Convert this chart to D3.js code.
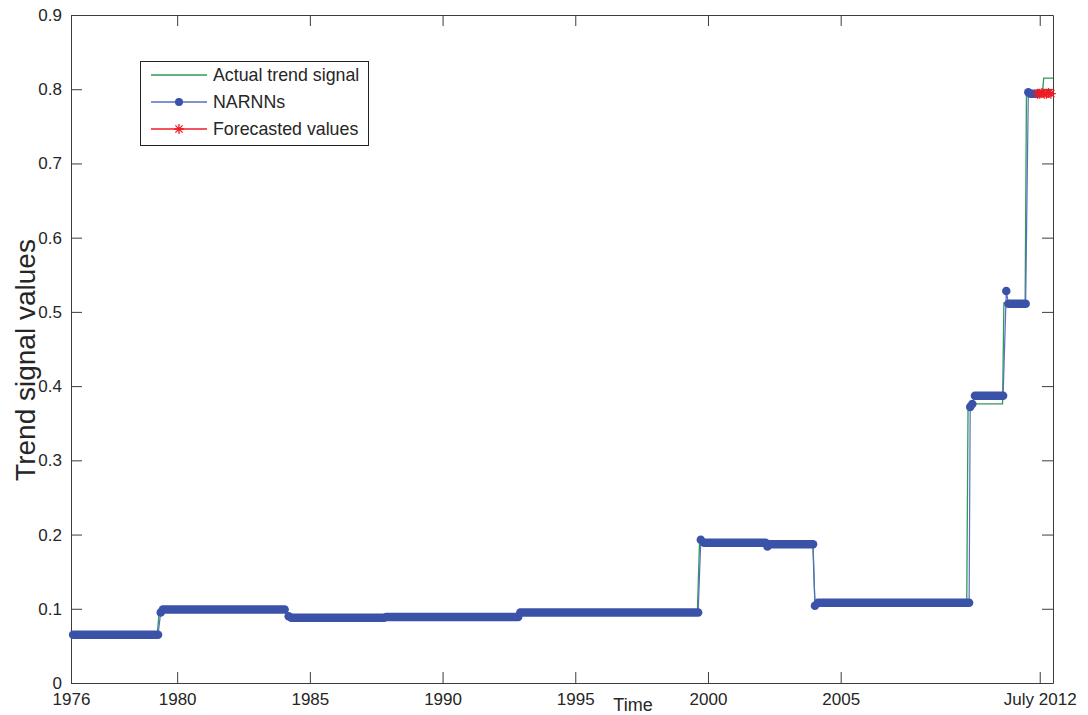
<!DOCTYPE html>
<html>
<head>
<meta charset="utf-8">
<script src="https://cdn.jsdelivr.net/npm/d3@7"></script>
<style>
  html, body { margin: 0; padding: 0; background: #fff; }
  svg { display: block; font-family: "Liberation Sans", Arial, sans-serif; }
</style>
</head>
<body>
<svg id="chart" width="1088" height="715"></svg>
<script>
// Actual trend signal (decimal year, value) – linear between monthly samples
const actualTime = [1976.0, 1979.25, 1979.33, 1984.1, 1984.18, 1987.75, 1987.83, 1992.8, 1992.88,
  1999.6, 1999.68, 2002.2, 2002.28, 2003.95, 2004.03, 2009.75, 2009.8, 2011.1, 2011.15,
  2011.95, 2012.0, 2012.6, 2012.65, 2013.0];
const actualValue = [0.065, 0.065, 0.099, 0.099, 0.088, 0.088, 0.089, 0.089, 0.095,
  0.095, 0.188, 0.188, 0.186, 0.186, 0.108, 0.108, 0.376, 0.376, 0.512,
  0.512, 0.794, 0.794, 0.815, 0.815];

// NARNNs output: runs of constant level (start year, end year, value)
const narnnStart = [1976.08, 1979.38, 1979.46, 1984.2, 1984.3, 1987.88, 1992.93, 1999.73, 1999.85,
  2002.24, 2002.32, 2004.03, 2004.14, 2009.88, 2009.96, 2010.06, 2011.24, 2011.32, 2012.07, 2012.15];
const narnnEnd = [1979.28, 1979.38, 1984.05, 1984.2, 1987.8, 1992.85, 1999.63, 1999.73, 2002.17,
  2002.24, 2003.96, 2004.03, 2009.84, 2009.88, 2009.96, 2011.12, 2011.24, 2011.97, 2012.07, 2012.4];
const narnnValue = [0.065, 0.095, 0.099, 0.090, 0.088, 0.089, 0.095, 0.193, 0.189,
  0.184, 0.187, 0.104, 0.108, 0.372, 0.376, 0.387, 0.528, 0.511, 0.796, 0.794];

// Forecasted values
const forecastTime = [2012.42, 2012.5, 2012.58, 2012.67, 2012.75, 2012.83, 2012.92];
const forecastValue = [0.794, 0.794, 0.795, 0.794, 0.794, 0.795, 0.794];

// Axis ticks
const xTickValues = [1976, 1980, 1985, 1990, 1995, 2000, 2005, 2012.5];
const xTickLabels = ["1976", "1980", "1985", "1990", "1995", "2000", "2005", "July 2012"];
const yTickValues = [0, 0.1, 0.2, 0.3, 0.4, 0.5, 0.6, 0.7, 0.8, 0.9];

const legendLabels = ["Actual trend signal", "NARNNs", "Forecasted values"];

const colGreen = "#2f9a57";
const colBlue = "#3a53a9";
const colBlueThin = "#5a6cc4";
const colRed = "#ee1c25";
const colAxis = "#3c3c3c";
const colText = "#262626";

const svg = d3.select("#chart");
const plotLeft = 71, plotRight = 1053, plotTop = 15, plotBottom = 683;

const x = d3.scaleLinear().domain([1976, 2013]).range([plotLeft, plotRight]);
const y = d3.scaleLinear().domain([0, 0.9]).range([plotBottom, plotTop]);

svg.append("rect").attr("width", 1088).attr("height", 715).attr("fill", "#fff");

// Axes (ticks pointing inward on all four sides)
const fmtY = d => d === 0 ? "0" : d3.format(".1f")(d);
const xLab = d => xTickLabels[xTickValues.indexOf(d)];

function styleAxis(g) {
  g.select(".domain").attr("stroke", colAxis).attr("stroke-width", 1);
  g.selectAll(".tick line").attr("stroke", colAxis).attr("stroke-width", 1);
  g.selectAll(".tick text").attr("fill", colText).attr("font-size", 17)
    .attr("font-family", "'Liberation Sans', Arial, sans-serif");
}

svg.append("g").attr("transform", `translate(0,${plotBottom})`)
  .call(d3.axisBottom(x).tickValues(xTickValues).tickFormat(xLab)
    .tickSizeInner(-11).tickSizeOuter(0).tickPadding(10))
  .call(styleAxis);
svg.append("g").attr("transform", `translate(0,${plotTop})`)
  .call(d3.axisTop(x).tickValues(xTickValues).tickFormat("")
    .tickSizeInner(-11).tickSizeOuter(0))
  .call(styleAxis);
svg.append("g").attr("transform", `translate(${plotLeft},0)`)
  .call(d3.axisLeft(y).tickValues(yTickValues).tickFormat(fmtY)
    .tickSizeInner(-11).tickSizeOuter(0).tickPadding(9))
  .call(styleAxis);
svg.append("g").attr("transform", `translate(${plotRight},0)`)
  .call(d3.axisRight(y).tickValues(yTickValues).tickFormat("")
    .tickSizeInner(-11).tickSizeOuter(0))
  .call(styleAxis);

// Axis titles
svg.append("text").attr("x", 633).attr("y", 711).attr("text-anchor", "middle")
  .attr("font-size", 18).attr("fill", colText).text("Time");
svg.append("text").attr("transform", "translate(35,360) rotate(-90)")
  .attr("text-anchor", "middle").attr("font-size", 28).attr("fill", colText)
  .text("Trend signal values");

// Actual trend signal
const actual = actualTime.map((t, i) => [t, actualValue[i]]);
svg.append("path").datum(actual)
  .attr("fill", "none").attr("stroke", colGreen).attr("stroke-width", 1.3)
  .attr("d", d3.line().x(d => x(d[0])).y(d => y(d[1])));

// NARNNs: thin connecting line through the runs
const runs = narnnStart.map((s, i) => ({ s, e: narnnEnd[i], v: narnnValue[i] }));
const narnnPath = [];
runs.forEach(r => { narnnPath.push([r.s, r.v]); if (r.e !== r.s) narnnPath.push([r.e, r.v]); });
svg.append("path").datum(narnnPath)
  .attr("fill", "none").attr("stroke", colBlueThin).attr("stroke-width", 1.2)
  .attr("d", d3.line().x(d => x(d[0])).y(d => y(d[1])));

// NARNNs: dense markers along each run
svg.append("g").selectAll("line").data(runs).join("line")
  .attr("x1", d => x(d.s)).attr("x2", d => x(d.e))
  .attr("y1", d => y(d.v)).attr("y2", d => y(d.v))
  .attr("stroke", colBlue).attr("stroke-width", 8.5).attr("stroke-linecap", "round");

// Forecasted values
const starPath = r => {
  const d = r * 0.72;
  return `M0,${-r}V${r}M${-r},0H${r}M${-d},${-d}L${d},${d}M${-d},${d}L${d},${-d}`;
};
const forecast = forecastTime.map((t, i) => [t, forecastValue[i]]);
svg.append("path").datum(forecast)
  .attr("fill", "none").attr("stroke", colRed).attr("stroke-width", 1.2)
  .attr("d", d3.line().x(d => x(d[0])).y(d => y(d[1])));
svg.append("g").selectAll("path").data(forecast).join("path")
  .attr("transform", d => `translate(${x(d[0])},${y(d[1])})`)
  .attr("d", starPath(5)).attr("fill", "none")
  .attr("stroke", colRed).attr("stroke-width", 1.3);

// Legend
const lg = svg.append("g");
lg.append("rect").attr("x", 140.5).attr("y", 61.5).attr("width", 228).attr("height", 84)
  .attr("fill", "#fff").attr("stroke", "#222").attr("stroke-width", 1);
const rowY = [75, 102, 129];
const rowCol = [colGreen, colBlueThin, colRed];
legendLabels.forEach((lab, i) => {
  lg.append("line").attr("x1", 151).attr("x2", 207).attr("y1", rowY[i]).attr("y2", rowY[i])
    .attr("stroke", rowCol[i]).attr("stroke-width", 1.3);
  lg.append("text").attr("x", 213).attr("y", rowY[i]).attr("dy", "0.36em")
    .attr("font-size", 17.8).attr("fill", colText).text(lab);
});
lg.append("circle").attr("cx", 179).attr("cy", rowY[1]).attr("r", 4).attr("fill", colBlue);
lg.append("path").attr("transform", `translate(179,${rowY[2]})`).attr("d", starPath(5))
  .attr("fill", "none").attr("stroke", colRed).attr("stroke-width", 1.3);
</script>
</body>
</html>
